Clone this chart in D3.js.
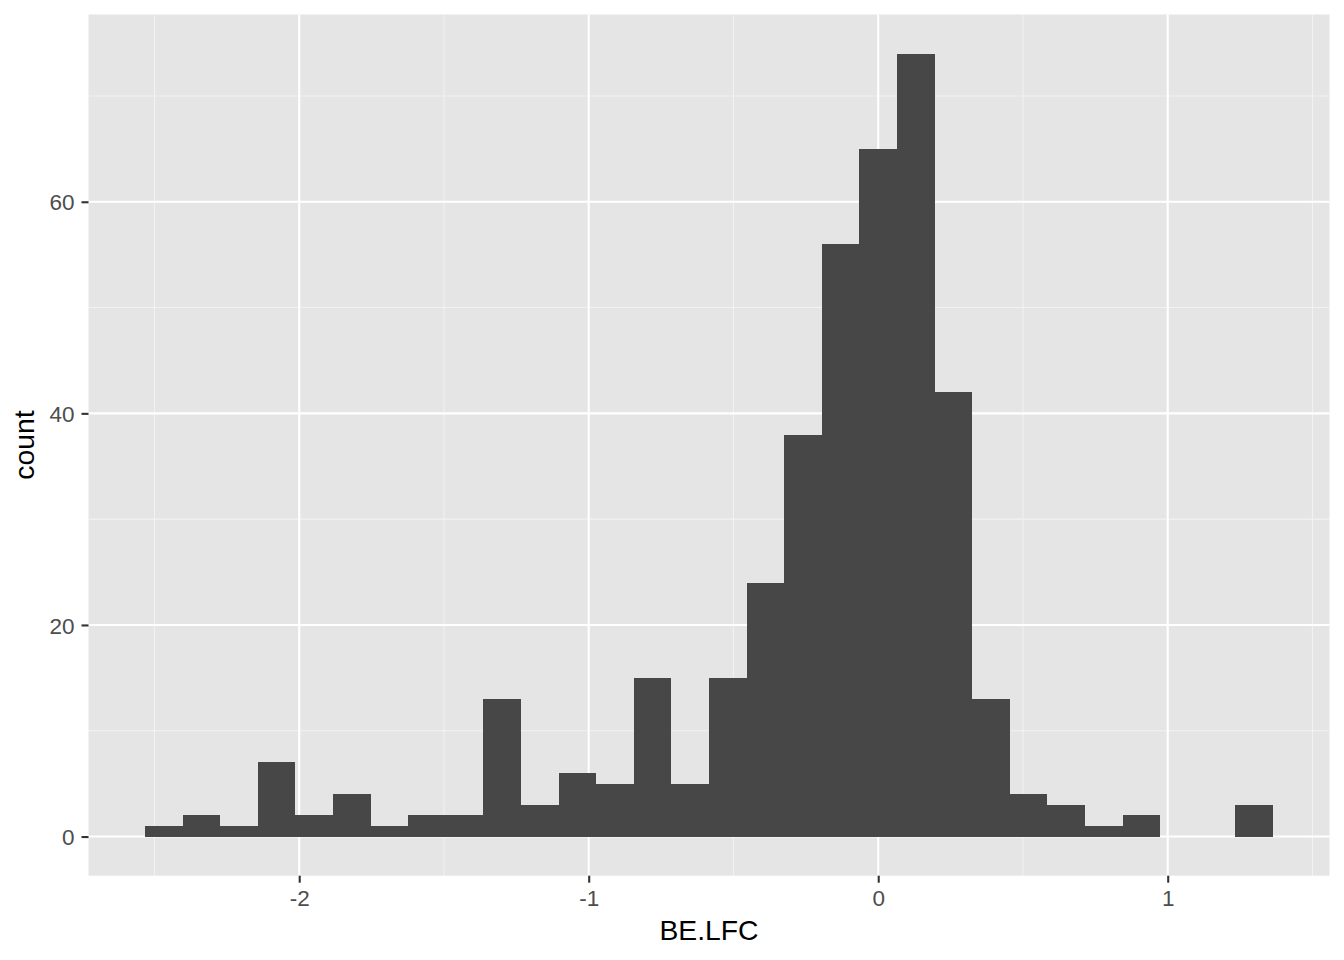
<!DOCTYPE html>
<html><head><meta charset="utf-8">
<script src="https://cdn.jsdelivr.net/npm/d3@7"></script>
<style>body{margin:0;background:#fff}svg{display:block}text{font-family:"Liberation Sans",Arial,Helvetica,sans-serif}</style>
</head><body><svg id="c" width="1344" height="960"></svg>
<script>
const binStart = -2.533;
const binWidth = 0.1299;
const counts = [1,2,1,7,2,4,1,2,2,13,3,6,5,15,5,15,24,38,56,65,74,42,13,4,3,1,2,0,0,3];
const xTicks = [-2,-1,0,1];
const xMinor = [-2.5,-1.5,-0.5,0.5,1.5];
const yTicks = [0,20,40,60];
const yMinor = [10,30,50,70];
const xTitle = "BE.LFC", yTitle = "count";

const bins = counts.map((c,i)=>({x0:binStart+i*binWidth, x1:binStart+(i+1)*binWidth, n:c}));
const svg = d3.select("#c");
const L=88.5, R=1329.5, T=14.5, B=875.7;
const xmin=bins[0].x0, xmax=bins[bins.length-1].x1, xr=xmax-xmin;
const x = d3.scaleLinear().domain([xmin-0.05*xr, xmax+0.05*xr]).range([L,R]);
const ymax = d3.max(counts);
const y = d3.scaleLinear().domain([-0.05*ymax, ymax*1.05]).range([B,T]);
const fmt = d => String(d);

svg.append("rect").attr("x",L).attr("y",T).attr("width",R-L).attr("height",B-T).attr("fill","#E5E5E5");
const g = svg.append("g");
g.selectAll(".xm").data(xMinor).join("line").attr("x1",d=>x(d)).attr("x2",d=>x(d)).attr("y1",T).attr("y2",B).attr("stroke","#F2F2F2").attr("stroke-width",1.1);
g.selectAll(".ym").data(yMinor).join("line").attr("y1",d=>y(d)).attr("y2",d=>y(d)).attr("x1",L).attr("x2",R).attr("stroke","#F2F2F2").attr("stroke-width",1.1);
g.selectAll(".xM").data(xTicks).join("line").attr("x1",d=>x(d)).attr("x2",d=>x(d)).attr("y1",T).attr("y2",B).attr("stroke","#fff").attr("stroke-width",2.1);
g.selectAll(".yM").data(yTicks).join("line").attr("y1",d=>y(d)).attr("y2",d=>y(d)).attr("x1",L).attr("x2",R).attr("stroke","#fff").attr("stroke-width",2.1);

svg.append("g").attr("shape-rendering","crispEdges").selectAll("rect").data(bins).join("rect")
  .attr("x",d=>x(d.x0)).attr("width",d=>x(d.x1)-x(d.x0))
  .attr("y",d=>y(d.n)).attr("height",d=>y(0)-y(d.n)).attr("fill","#474747");

// axes
const xa = svg.append("g").attr("transform",`translate(0,${B})`)
  .call(d3.axisBottom(x).tickValues(xTicks).tickSize(7).tickPadding(4).tickFormat(fmt));
const ya = svg.append("g").attr("transform",`translate(${L},0)`)
  .call(d3.axisLeft(y).tickValues(yTicks).tickSize(7).tickPadding(7).tickFormat(fmt));
[xa,ya].forEach(a=>{
  a.select(".domain").remove();
  a.attr("font-size",null).attr("font-family",null);
  a.selectAll(".tick line").attr("stroke","#333").attr("stroke-width",2.1);
  a.selectAll(".tick text").attr("fill","#4D4D4D").style("font-size","22.5px").style("font-family","'Liberation Sans',Arial,sans-serif");
});
xa.selectAll(".tick text").attr("dy",null).attr("y",30.5);
ya.selectAll(".tick text").attr("dy","0.36em");
svg.append("text").attr("x",(L+R)/2).attr("y",940).attr("text-anchor","middle").style("font-size","28.3px").attr("fill","#000").text(xTitle);
svg.append("text").attr("transform",`translate(34,${(T+B)/2}) rotate(-90)`).attr("text-anchor","middle").style("font-size","28.3px").attr("fill","#000").text(yTitle);
</script></body></html>
